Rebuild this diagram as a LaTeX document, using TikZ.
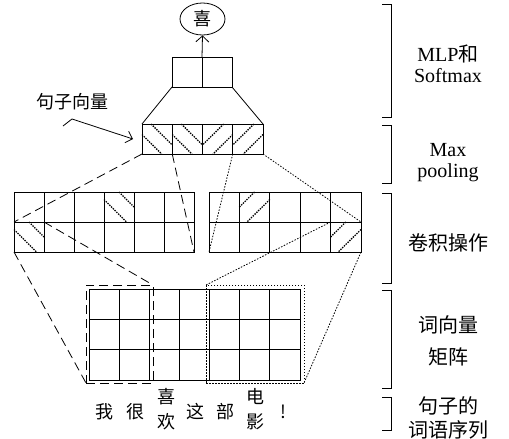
\documentclass[tikz,border=0pt]{standalone}
\usepackage{fontspec}
\setmainfont{Liberation Serif}
\newfontfamily\cjk{Noto Sans CJK SC}
\usetikzlibrary{arrows.meta,shapes.geometric,calc}
\newcommand\hdown[4]{%
  \draw[hatch] ({#1+0.5*#3},#2) -- ({#1+#3},{#2+0.5*#4});
  \draw[hatch] (#1,{#2+0.25*#4}) -- ({#1+0.75*#3},{#2+#4});}
\newcommand\hup[4]{%
  \draw[hatch] ({#1+0.5*#3},#2) -- (#1,{#2+0.5*#4});
  \draw[hatch] ({#1+#3},{#2+0.25*#4}) -- ({#1+0.25*#3},{#2+#4});}
\newcommand\pdown[4]{%
  \draw[hatch] ({#1+0.3*#3},#2) -- ({#1+#3},{#2+0.7*#4});
  \draw[hatch] (#1,{#2+0.35*#4}) -- ({#1+0.65*#3},{#2+#4});}
\newcommand\pup[4]{%
  \draw[hatch] ({#1+0.7*#3},#2) -- (#1,{#2+0.7*#4});
  \draw[hatch] ({#1+#3},{#2+0.35*#4}) -- ({#1+0.35*#3},{#2+#4});}
\begin{document}
\begin{tikzpicture}[x=1pt,y=-1pt,line width=0.8pt,
  cell/.style={draw,inner sep=0pt,outer sep=0pt},
  hatch/.style={line width=1.3pt,dash pattern=on 1.4pt off 1.1pt},
  dashline/.style={dash pattern=on 9pt off 5pt},
  dotline/.style={dash pattern=on 1.5pt off 1.5pt},
  lab/.style={font=\fontsize{20}{22}\selectfont,inner sep=0pt},
  clab/.style={font=\cjk\fontsize{20}{22}\selectfont,inner sep=0pt},
  word/.style={font=\cjk\fontsize{18}{18}\selectfont,inner sep=0pt},
  tip/.style={-{Straight Barb[length=6pt,width=13pt]}}]
\useasboundingbox (0,0) rectangle (509,439);

% output
\node[draw,ellipse,minimum width=45pt,minimum height=32pt,inner sep=0pt,
  font=\cjk\fontsize{18}{18}\selectfont] (out) at (202.5,19) {喜};

% MLP
\node[cell,minimum width=60pt,minimum height=30pt] (mlp) at (202,72) {};
\draw (mlp.south) -- (mlp.north);
\draw[tip] (mlp.north) -- (out.south);

% pooling
\node[cell,minimum width=121pt,minimum height=30pt] (pool) at (202.5,139) {};
\foreach \i in {1,2,3} \draw ({142+30.25*\i},124) -- ({142+30.25*\i},154);
\draw (mlp.south west) -- (pool.north west);
\draw (mlp.south east) -- (pool.north east);
\pdown{142}{124}{30.25}{30}
\pdown{172.25}{124}{30.25}{30}
\pup{202.5}{124}{30.25}{30}
\pup{232.75}{124}{30.25}{30}
\coordinate (p1se) at (172.25,154);
\coordinate (p4sw) at (232.75,154);

% sentence vector label
\node[word] (sv) at (72,102) {句子向量};
\coordinate (a0) at (63,126);
\coordinate (a1) at (72,119);
\coordinate (a2) at (133,139);
\draw[-{Straight Barb[length=6pt,width=12pt]}] (a0) -- (a1) -- (a2);

% conv left
\node[cell,minimum width=180pt,minimum height=60pt] (convL) at (104,222) {};
\foreach \i in {1,...,5} \draw ({14+30*\i},192) -- ({14+30*\i},252);
\draw (convL.west) -- (convL.east);
\hdown{104}{192}{30}{30}
\hdown{14}{222}{30}{30}
\coordinate (cL) at (44,222);

% conv right
\node[cell,minimum width=152pt,minimum height=60pt] (convR) at (285,222) {};
\foreach \i in {1,...,4} \draw ({209+30.4*\i},192) -- ({209+30.4*\i},252);
\draw (convR.west) -- (convR.east);
\hup{239.4}{192}{30.4}{30}
\hup{330.6}{222}{30.4}{30}
\coordinate (cR) at (330.6,222);

% word matrix
\node[cell,minimum width=211pt,minimum height=91pt] (mat) at (194.5,334.5) {};
\foreach \i in {1,...,6} \draw ({89+211/7*\i},289) -- ({89+211/7*\i},380);
\foreach \j in {1,2} \draw (89,{289+91/3*\j}) -- (300,{289+91/3*\j});
\node[cell,dashline,minimum width=67pt,minimum height=98pt] (dbox) at (119.5,334) {};
\node[cell,dotline,minimum width=98pt,minimum height=98pt] (obox) at (255,334) {};

% connectors
\draw[dashline] (pool.south west) -- (convL.west);
\draw[dashline] (p1se) -- (convL.south east);
\draw[dashline] (cL) -- (dbox.north east);
\draw[dashline] (convL.south west) -- (dbox.south west);
\draw[dotline] (p4sw) -- (convR.south west);
\draw[dotline] (pool.south east) -- (convR.east);
\draw[dotline] (cR) -- (obox.north west);
\draw[dotline] (convR.south east) -- (obox.south east);

% words
\node[word] (w1) at (104,412) {我};
\node[word] (w2) at (135,412) {很};
\node[word] (w3) at (166,397) {喜};
\node[word] (w3b) at (166,422) {欢};
\node[word] (w4) at (195,412) {这};
\node[word] (w5) at (225,412) {部};
\node[word] (w6) at (255,397) {电};
\node[word] (w6b) at (255,422) {影};
\node[word] (w7) at (283,412) {!};

% brackets
\draw (382,4) -- (391,4) -- (391,117) -- (382,117);
\draw (382,125) -- (391,125) -- (391,183) -- (382,183);
\draw (382,193) -- (391,193) -- (391,283) -- (382,283);
\draw (382,290) -- (391,290) -- (391,388) -- (382,388);
\draw (382,397) -- (391,397) -- (391,430) -- (382,430);

% labels
\node[lab] (l1) at (448,54) {MLP{\cjk 和}};
\node[lab] (l1b) at (448,76) {Softmax};
\node[lab] (l2) at (448,150) {Max};
\node[lab] (l2b) at (448,173) {pooling};
\node[clab] (l3) at (448,243) {卷积操作};
\node[clab] (l4) at (448,325) {词向量};
\node[clab] (l4b) at (448,357) {矩阵};
\node[clab] (l5) at (448,406) {句子的};
\node[clab] (l5b) at (448,430) {词语序列};
\end{tikzpicture}
\end{document}
